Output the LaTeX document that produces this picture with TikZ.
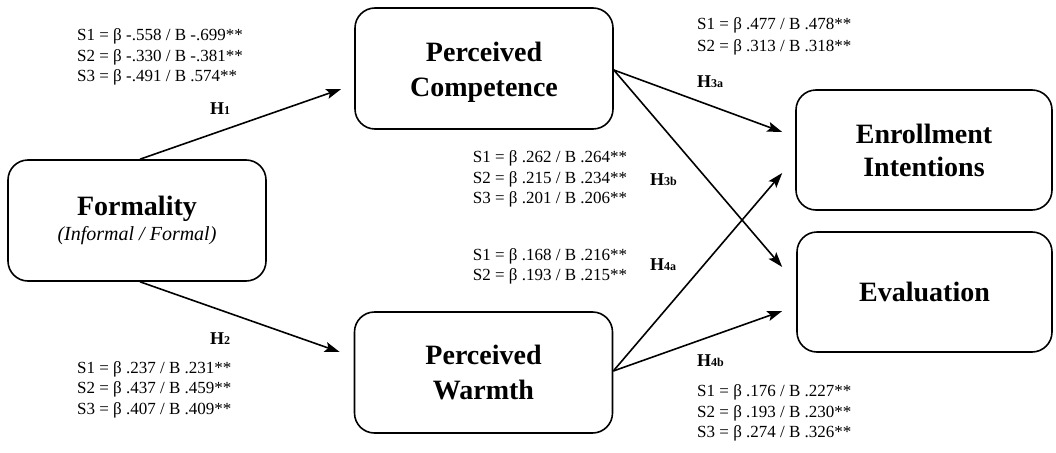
\documentclass[tikz,border=0pt]{standalone}
\usepackage{fontspec}
\setmainfont{Liberation Serif}
\usetikzlibrary{arrows.meta,calc}
\newcommand\hsub[1]{{\fontsize{12}{12}\selectfont #1}}
\newcommand\ttstrut{\rule{0pt}{27pt}}
\begin{document}
\begin{tikzpicture}[x=1pt,y=-1pt,
  box/.style={draw, line width=1.6pt, rounded corners=20pt, minimum width=258pt, minimum height=121pt, inner sep=0pt, align=center, font=\fontsize{28}{35}\selectfont\bfseries},
  arr/.style={line width=1.6pt, -{Stealth[length=15pt,width=10pt,inset=3pt]}},
  stat/.style={anchor=base west, inner sep=0pt, align=left, font=\fontsize{17}{20.5}\selectfont},
  hyp/.style={anchor=base west, inner sep=0pt, font=\fontsize{18}{20}\selectfont\bfseries}]
\useasboundingbox (0,0) rectangle (1056,452);
\fill[white] (0,0) rectangle (1056,452);
% boxes
\node[box] (form) at (137,220.5) {Formality\\[-10pt]{\fontsize{20}{24}\selectfont\mdseries\itshape (Informal / Formal)}};
\node[box] (comp) at (484,68.5) {\ttstrut Perceived\\Competence};
\node[box] (warm) at (483.5,372.5) {Perceived\\Warmth};
\node[box, minimum width=256pt, minimum height=120pt] (enr) at (924,150) {Enrollment\\[-2pt]Intentions};
\node[box, minimum width=255pt, minimum height=120pt] (eval) at (924.5,292) {Evaluation};
% connector ends
\coordinate (h1s) at ($(form.north)+(3,0)$);
\coordinate (h1e) at ($(comp.west)+(-13,20.5)$);
\coordinate (h2s) at ($(form.south)+(3,0)$);
\coordinate (h2e) at ($(warm.west)+(-14,-20.5)$);
\coordinate (cs) at ($(comp.east)+(0,1.5)$);
\coordinate (h3ae) at ($(enr.west)+(-13,-18)$);
\coordinate (h3be) at ($(eval.west)+(-14,-25)$);
\coordinate (ws) at ($(warm.east)+(0,-1.5)$);
\coordinate (h4ae) at ($(enr.west)+(-13,23)$);
\coordinate (h4be) at ($(eval.west)+(-14,19)$);
\draw[arr] (h1s) -- (h1e);
\draw[arr] (h2s) -- (h2e);
\draw[arr] (cs) -- (h3ae);
\draw[arr] (cs) -- (h3be);
\draw[arr] (ws) -- (h4ae);
\draw[arr] (ws) -- (h4be);
% labels (base = baseline of the last line)
\node[stat] (s1) at (77,81.7) {S1 = β -.558 / B -.699**\\S2 = β -.330 / B -.381**\\S3 = β -.491 / B .574**};
\node[hyp] (h1) at (210,114) {H\hsub{1}};
\node[hyp] (h2) at (210,344) {H\hsub{2}};
\node[stat] (s2) at (77,414) {S1 = β .237 / B .231**\\S2 = β .437 / B .459**\\S3 = β .407 / B .409**};
\node[stat, font=\fontsize{17}{22.5}\selectfont] (s3a) at (697,52) {S1 = β .477 / B .478**\\S2 = β .313 / B .318**};
\node[hyp] (h3a) at (697,87.3) {H\hsub{3a}};
\node[stat] (s3b) at (472.7,203.7) {S1 = β .262 / B .264**\\S2 = β .215 / B .234**\\S3 = β .201 / B .206**};
\node[hyp] (h3b) at (650,185) {H\hsub{3b}};
\node[stat] (s4a) at (472.7,280.5) {S1 = β .168 / B .216**\\S2 = β .193 / B .215**};
\node[hyp] (h4a) at (650,270) {H\hsub{4a}};
\node[hyp] (h4b) at (697,366.7) {H\hsub{4b}};
\node[stat] (s4b) at (697,437.7) {S1 = β .176 / B .227**\\S2 = β .193 / B .230**\\S3 = β .274 / B .326**};
\end{tikzpicture}
\end{document}
